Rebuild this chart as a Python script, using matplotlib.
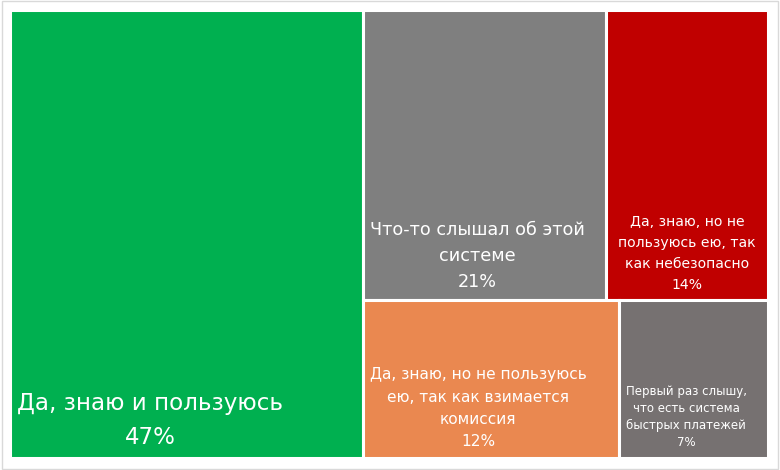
import matplotlib.pyplot as plt
from matplotlib.patches import Rectangle

labels = ['Да, знаю и пользуюсь',
          'Что-то слышал об этой\nсистеме',
          'Да, знаю, но не\nпользуюсь ею, так\nкак небезопасно',
          'Да, знаю, но не пользуюсь\nею, так как взимается\nкомиссия',
          'Первый раз слышу,\nчто есть система\nбыстрых платежей']
values = [47, 21, 14, 12, 7]
colors = ['#00B050', '#7F7F7F', '#C00000', '#EA8850', '#767171']
font_sizes = [16.6, 12.7, 10.1, 11.1, 8.5]
spacings = [1.62, 1.6, 1.65, 1.6, 1.4]

fig = plt.figure(figsize=(7.8, 4.7), dpi=100)
fig.patches.append(Rectangle((0.002, 0.003), 0.996, 0.994, transform=fig.transFigure,
                             fill=False, edgecolor='#D9D9D9', linewidth=1))
ax = fig.add_axes([10 / 780, 12 / 470, 758 / 780, 448 / 470])
ax.set_xlim(0, 1)
ax.set_ylim(0, 1)
ax.axis('off')

# layout: big block on the left, two rows on the right
total = sum(values)
w0 = values[0] / total
top = values[1] + values[2]
bottom = values[3] + values[4]
h_top = top / (top + bottom)
rw = 1 - w0
rects = [
    (0, 0, w0, 1),
    (w0, 1 - h_top, rw * values[1] / top, h_top),
    (w0 + rw * values[1] / top, 1 - h_top, rw * values[2] / top, h_top),
    (w0, 0, rw * values[3] / bottom, 1 - h_top),
    (w0 + rw * values[3] / bottom, 0, rw * values[4] / bottom, 1 - h_top),
]

px_x = 1 / 758
px_y = 1 / 448
for (x, y, w, h), lab, v, c, fs, ls in zip(rects, labels, values, colors, font_sizes, spacings):
    ax.add_patch(Rectangle((x, y), w, h, facecolor=c, edgecolor='white', linewidth=2.2))
    txt = f'{lab}\n{v}%'
    if c == '#C00000':
        ax.text(x + w / 2, y + 8 * px_y, txt, ha='center', va='bottom', color='white',
                fontsize=fs, multialignment='center', linespacing=ls)
    else:
        ax.text(x + 7 * px_x, y + 9 * px_y, txt, ha='left', va='bottom', color='white',
                fontsize=fs, multialignment='center', linespacing=ls)

plt.savefig('out.png', dpi=100)
